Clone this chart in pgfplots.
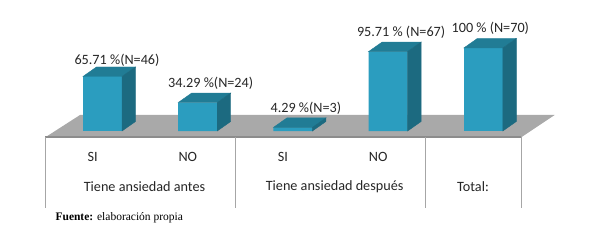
\documentclass[border=0pt]{standalone}
\usepackage{pgfplots}
\pgfplotsset{compat=1.18}
\usepackage{pgfplotstable}
\usepackage{fontspec}
\setmainfont{Carlito}
\newfontfamily\timesf{Liberation Serif}
\definecolor{frontc}{HTML}{2B9DBF}
\definecolor{topc}{HTML}{217C95}
\definecolor{sidec}{HTML}{1C6A80}
\definecolor{floorc}{HTML}{A9A9A9}
\definecolor{flooredge}{HTML}{8C8C8C}
\definecolor{sepc}{HTML}{A6A6A6}
\definecolor{txt}{HTML}{262626}
\pgfdeclareplotmark{none3d}{}

\pgfplotstableread[col sep=comma]{
x,y,lab
0,65.71,65.71 \%(N=46)
}\barsO
\pgfplotstableread[col sep=comma]{
x,y,lab
1,34.29,34.29 \%(N=24)
2,4.29,4.29 \%(N=3)
3,95.71,95.71 \% (N=67)
}\barsA
\pgfplotstableread[col sep=comma]{
x,y,lab
4,100,100 \% (N=70)
}\barsB

\begin{document}
\begin{tikzpicture}
\begin{axis}[
  scale only axis, width=589pt, height=244pt,
  xmin=-1.0767, xmax=5.1103, ymin=-136.14, ymax=157.83,
  axis lines=none, clip=false,
  threed/.style={scatter, only marks, mark=none3d,
    visualization depends on={rawy \as \vy},
    scatter/@pre marker code/.code={%
      \fill[topc] (-19.5pt,0pt) -- (-6pt,9.5pt) -- (33pt,9.5pt) -- (19.5pt,0pt) -- cycle;
      \fill[sidec] (19.5pt,0pt) -- (33pt,9.5pt) -- (33pt,9.5pt-\vy*0.83pt) -- (19.5pt,-\vy*0.83pt) -- cycle;
    },
    scatter/@post marker code/.code={}},
  labs/.style 2 args={only marks, mark=none3d, point meta=explicit symbolic,
    nodes near coords,
    every node near coord/.style={anchor=center, xshift=#1, yshift=#2,
       font=\fontsize{14.2}{16}\selectfont, text=txt, inner sep=0pt}},
]
\path (rel axis cs:0,0) rectangle (rel axis cs:1,1);
% floor
\addplot[fill=floorc, draw=none] coordinates {(-0.604,-7.8) (4.396,-7.8) (4.75,19.3) (-0.236,19.3) (-0.604,-7.8)};
\addplot[flooredge, line width=1.4pt] coordinates {(-0.604,-7.0) (4.396,-7.0)};
% separators
\addplot[sepc, line width=0.8pt] coordinates {(-0.604,-7.8) (-0.604,-92.8)};
\addplot[sepc, line width=0.8pt] coordinates {(1.396,-7.8) (1.396,-92.8)};
\addplot[sepc, line width=0.8pt] coordinates {(3.396,-7.8) (3.396,-92.8)};
\addplot[sepc, line width=0.8pt] coordinates {(4.396,-7.8) (4.396,-92.8)};
% front faces
\addplot[ybar, bar width=39pt, bar shift=0pt, fill=frontc, draw=none] table[x=x,y=y]{\barsO};
\addplot[ybar, bar width=39pt, bar shift=0pt, fill=frontc, draw=none] table[x=x,y=y]{\barsA};
\addplot[ybar, bar width=39pt, bar shift=0pt, fill=frontc, draw=none] table[x=x,y=y]{\barsB};
% top and side faces
\addplot[threed] table[x=x,y=y]{\barsO};
\addplot[threed] table[x=x,y=y]{\barsA};
\addplot[threed] table[x=x,y=y]{\barsB};
% value labels
\addplot[labs={14.5pt}{16pt}] table[x=x,y=y,meta=lab]{\barsO};
\addplot[labs={13pt}{19.5pt}] table[x=x,y=y,meta=lab]{\barsA};
\addplot[labs={7pt}{19.5pt}] table[x=x,y=y,meta=lab]{\barsB};
% category labels
\node[font=\fontsize{14.2}{16}\selectfont, text=txt] at (axis cs:-0.104,-31.3) {SI};
\node[font=\fontsize{14.2}{16}\selectfont, text=txt] at (axis cs:0.896,-31.3) {NO};
\node[font=\fontsize{14.2}{16}\selectfont, text=txt] at (axis cs:1.896,-31.3) {SI};
\node[font=\fontsize{14.2}{16}\selectfont, text=txt] at (axis cs:2.896,-31.3) {NO};
\node[font=\fontsize{14.2}{16}\selectfont, text=txt] at (axis cs:0.441,-67.5) {Tiene ansiedad antes};
\node[font=\fontsize{14.2}{16}\selectfont, text=txt] at (axis cs:2.438,-67.5) {Tiene ansiedad después};
\node[font=\fontsize{14.2}{16}\selectfont, text=txt] at (axis cs:3.892,-67.5) {Total:};
\node[anchor=base west, font=\timesf\fontsize{11.5}{13}\selectfont, text=black] at (axis cs:-0.530,-108.1) {\textbf{Fuente:} elaboración propia};
\end{axis}
\end{tikzpicture}
\end{document}
